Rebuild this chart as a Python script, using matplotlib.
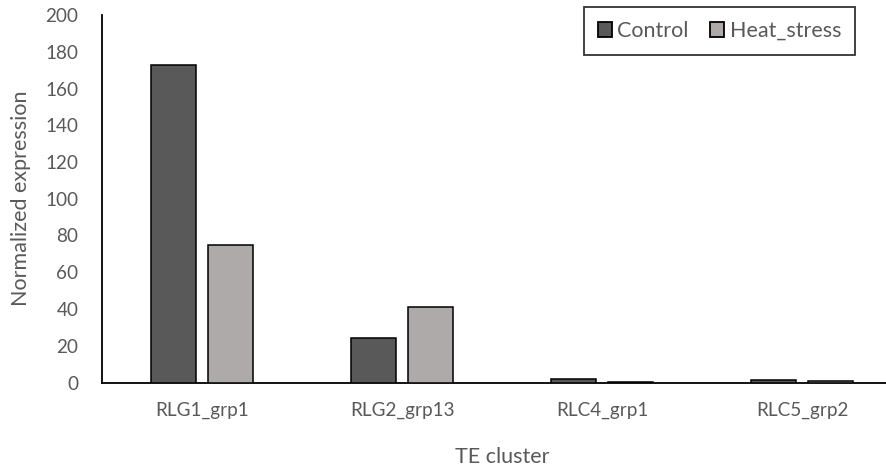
import numpy as np
import matplotlib

matplotlib.use("Agg")
import matplotlib.pyplot as plt
from matplotlib.patches import Patch


CLUSTERS = ["RLG1_grp1", "RLG2_grp13", "RLC4_grp1", "RLC5_grp2"]
CONTROL = [173.0, 24.1, 1.7, 1.2]
HEAT_STRESS = [74.8, 40.9, 0.3, 1.0]
Y_TICKS = [0, 20, 40, 60, 80, 100, 120, 140, 160, 180, 200]

TEXT_COLOR = "#595959"
CONTROL_COLOR = "#595959"
HEAT_COLOR = "#AEAAAA"


def main() -> None:
    plt.rcParams["font.family"] = ["Lato", "DejaVu Sans"]

    fig = plt.figure(figsize=(8.86, 4.68), dpi=100)
    # axis runs past the right edge of the canvas
    ax = fig.add_axes([102 / 886, 85.5 / 468, 800 / 886, 367.5 / 468])

    x = np.arange(len(CLUSTERS))
    width = 0.223
    offset = 0.143
    ax.bar(x - offset, CONTROL, width, color=CONTROL_COLOR, edgecolor="black",
           linewidth=1.1, label="Control", zorder=3)
    ax.bar(x + offset, HEAT_STRESS, width, color=HEAT_COLOR, edgecolor="black",
           linewidth=1.1, label="Heat_stress", zorder=3)

    ax.set_xlim(-0.5, len(CLUSTERS) - 0.5)
    ax.set_ylim(0, 200)
    ax.set_yticks(Y_TICKS)
    ax.set_xticks(x)
    ax.set_xticklabels(CLUSTERS)
    ax.tick_params(axis="both", length=0, labelsize=13.6, colors=TEXT_COLOR)
    ax.tick_params(axis="x", pad=14)
    ax.tick_params(axis="y", pad=17)

    for side in ("top", "right"):
        ax.spines[side].set_visible(False)
    for side in ("left", "bottom"):
        ax.spines[side].set_color("black")
        ax.spines[side].set_linewidth(1.3)

    ax.set_xlabel("TE cluster", fontsize=15.5, color=TEXT_COLOR, labelpad=20)
    ax.set_ylabel("Normalized expression", fontsize=15.5, color=TEXT_COLOR, labelpad=10)

    handles = [
        Patch(facecolor=CONTROL_COLOR, edgecolor="black", linewidth=1.3, label="Control"),
        Patch(facecolor=HEAT_COLOR, edgecolor="black", linewidth=1.3, label="Heat_stress"),
    ]
    leg = fig.legend(
        handles=handles,
        loc="upper left",
        bbox_to_anchor=(584 / 886, 1 - 7 / 468),
        borderaxespad=0,
        ncol=2,
        frameon=True,
        fancybox=False,
        fontsize=15.5,
        handlelength=0.65,
        handleheight=0.65,
        handletextpad=0.25,
        columnspacing=1.0,
        borderpad=0.65,
        labelcolor=TEXT_COLOR,
    )
    leg.get_frame().set_edgecolor("black")
    leg.get_frame().set_linewidth(1.3)

    fig.savefig("out.png", dpi=100)
    plt.close(fig)


if __name__ == "__main__":
    main()
